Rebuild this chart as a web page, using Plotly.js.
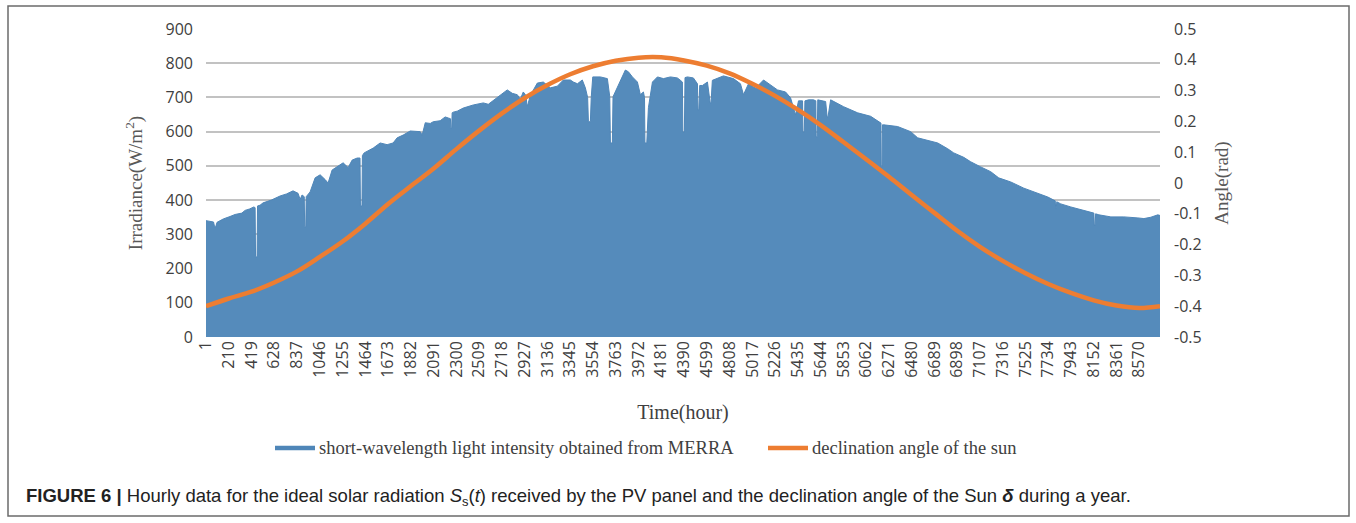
<!DOCTYPE html>
<html>
<head>
<meta charset="utf-8">
<script src="https://cdn.plot.ly/plotly-3.0.1.min.js"></script>
<style>
html,body{margin:0;padding:0;background:#fff;}
#chart{width:1356px;height:523px;}
</style>
</head>
<body>
<div id="chart"></div>
<script>
// Hourly irradiance envelope (hour index, W/m2)
const hours = [1,40,70,80,90,102,160,221,268,330,360,400,440,452,456,470,474,497,525,600,681,740,800,846,865,883,903,907,917,921,957,1003,1049,1095,1122,1159,1205,1260,1306,1343,1389,1415,1419,1433,1437,1453,1536,1600,1664,1719,1756,1811,1876,1968,1986,2014,2060,2087,2151,2197,2225,2245,2249,2257,2261,2271,2308,2363,2455,2547,2593,2675,2767,2813,2859,2887,2914,2940,2947,2955,2979,3043,3098,3163,3227,3282,3346,3374,3411,3456,3484,3505,3512,3530,3538,3552,3622,3686,3708,3714,3732,3738,3778,3824,3851,3879,3916,3962,3989,4017,4027,4031,4048,4063,4100,4146,4201,4265,4329,4357,4375,4379,4393,4399,4421,4476,4513,4518,4526,4534,4559,4605,4630,4638,4650,4752,4844,4908,4936,4982,5046,5120,5184,5248,5322,5368,5414,5441,5478,5482,5494,5500,5533,5579,5600,5603,5613,5618,5690,5704,5712,5736,5855,5984,6103,6177,6198,6200,6208,6212,6223,6351,6471,6535,6654,6719,6811,6866,6958,7022,7114,7206,7279,7390,7509,7638,7730,7785,7798,7802,7808,7812,7849,7941,8061,8153,8157,8165,8169,8199,8309,8428,8557,8612,8676,8740,8760];
const irradiance = [340,338,336,322,322,335,345,352,358,362,370,374,380,378,234,234,383,385,392,400,412,418,427,420,402,415,410,322,322,410,424,465,474,460,450,488,497,509,495,517,523,523,383,383,530,538,552,567,562,567,582,590,602,600,590,626,624,629,632,643,640,638,611,611,655,657,660,669,678,684,680,699,722,712,708,695,716,705,678,678,706,742,745,728,733,751,751,745,740,751,728,700,629,629,700,760,760,755,702,567,567,702,731,760,780,775,760,745,708,716,700,567,567,670,745,760,755,760,757,750,745,599,599,758,760,757,740,664,664,735,735,745,684,684,750,763,755,740,708,740,727,751,737,722,716,699,649,690,690,599,599,690,693,693,690,585,585,693,688,643,643,693,673,655,645,629,625,497,497,620,620,615,600,582,572,567,550,538,525,512,497,483,465,453,435,421,409,400,398,377,377,395,389,380,371,362,327,327,360,357,351,351,348,346,350,357,355];

// Declination angle of the sun (rad) read at each labelled hour
const declHours = [1,210,419,628,837,1046,1255,1464,1673,1882,2091,2300,2509,2718,2927,3136,3345,3554,3763,3972,4181,4390,4599,4808,5017,5226,5435,5644,5853,6062,6271,6480,6689,6898,7107,7316,7525,7734,7943,8152,8361,8570,8760];
const declination = [-0.400,-0.375,-0.353,-0.323,-0.287,-0.240,-0.190,-0.132,-0.068,-0.010,0.047,0.110,0.170,0.226,0.276,0.318,0.353,0.379,0.397,0.407,0.408,0.398,0.381,0.356,0.322,0.283,0.238,0.188,0.133,0.077,0.020,-0.039,-0.097,-0.155,-0.207,-0.253,-0.293,-0.328,-0.357,-0.381,-0.398,-0.406,-0.400];

// Axis tick labels
const xTickVals = [1,210,419,628,837,1046,1255,1464,1673,1882,2091,2300,2509,2718,2927,3136,3345,3554,3763,3972,4181,4390,4599,4808,5017,5226,5435,5644,5853,6062,6271,6480,6689,6898,7107,7316,7525,7734,7943,8152,8361,8570];
const yLeftTicks = [0,100,200,300,400,500,600,700,800,900];
const yRightTicks = [-0.5,-0.4,-0.3,-0.2,-0.1,0,0.1,0.2,0.3,0.4,0.5];
const yRightLabels = ["-0.5","-0.4","-0.3","-0.2","-0.1","0","0.1","0.2","0.3","0.4","0.5"];

const seriesNames = ["short-wavelength light intensity obtained from MERRA","declination angle of the sun"];
const seriesColors = ["#4f86b8","#ed7d31"];

const tickFont = {family:"Open Sans, sans-serif", size:16, color:"#404040"};
const serif = "Liberation Serif, Times New Roman, serif";

const traces = [
  {
    x: hours, y: irradiance, type:"scatter", mode:"lines",
    fill:"tozeroy", fillcolor:"#558bbb",
    line:{color:seriesColors[0], width:1, shape:"linear"},
    name: seriesNames[0], yaxis:"y", hoverinfo:"skip", showlegend:false
  },
  {
    x: declHours, y: declination, type:"scatter", mode:"lines",
    line:{color:seriesColors[1], width:4.5, shape:"spline", smoothing:1},
    name: seriesNames[1], yaxis:"y2", hoverinfo:"skip", showlegend:false
  }
];

const L = 206, R = 1160, T = 29, B = 337, W = 1356, H = 523;
const pw = R - L, ph = B - T;
function px(x){ return (x - L)/pw; }
function py(y){ return (B - y)/ph; }

const legendY = py(448);
const legendFont = {family:serif, size:18.5, color:"#404040"};

const layout = {
  width: W, height: H,
  margin:{l:L, r:W-R, t:T, b:H-B, autoexpand:false},
  paper_bgcolor:"#fff", plot_bgcolor:"#fff",
  showlegend:false,
  xaxis:{
    range:[1,8760], tickmode:"array", tickvals:xTickVals,
    tickangle:-90, tickfont:tickFont, showgrid:false, zeroline:false,
    showline:false, ticks:"", automargin:false, fixedrange:true,
    title:{text:"Time(hour)", font:{family:serif, size:20, color:"#404040"}, standoff:28}
  },
  yaxis:{
    range:[0,900], tickmode:"array", tickvals:yLeftTicks,
    tickfont:tickFont, showgrid:true, gridcolor:"#c2c2c2", gridwidth:2,
    zeroline:false, showline:false, ticks:"", ticklabelstandoff:12, automargin:false,
    title:{text:"Irradiance(W/m<sup>2</sup>)", font:{family:serif, size:19, color:"#595959"}, standoff:17}
  },
  yaxis2:{
    range:[-0.5,0.5], overlaying:"y", side:"right", tickmode:"array",
    tickvals:yRightTicks, ticktext:yRightLabels, tickfont:tickFont,
    showgrid:false, zeroline:false, showline:false, ticks:"", ticklabelstandoff:13, automargin:false,
    title:{text:"Angle(rad)", font:{family:serif, size:19, color:"#595959"}, standoff:14}
  },
  shapes:[
    {type:"rect", xref:"paper", yref:"paper", x0:px(8), x1:px(1349), y0:py(516), y1:py(6),
     line:{color:"#6b6b6b", width:1.5}, fillcolor:"rgba(0,0,0,0)", layer:"below"},
    {type:"line", xref:"paper", yref:"paper", x0:px(275), x1:px(315), y0:legendY, y1:legendY,
     line:{color:seriesColors[0], width:4.5}},
    {type:"line", xref:"paper", yref:"paper", x0:px(768), x1:px(808), y0:legendY, y1:legendY,
     line:{color:seriesColors[1], width:4.5}}
  ],
  annotations:[
    {xref:"paper", yref:"paper", x:px(317), y:legendY, xanchor:"left", yanchor:"middle", showarrow:false,
     font:legendFont, text:seriesNames[0]},
    {xref:"paper", yref:"paper", x:px(810), y:legendY, xanchor:"left", yanchor:"middle", showarrow:false,
     font:legendFont, text:seriesNames[1]},
    {xref:"paper", yref:"paper", x:px(24), y:py(497), xanchor:"left", yanchor:"middle", showarrow:false,
     align:"left", font:{family:"Liberation Sans, Arial, sans-serif", size:18.5, color:"#222"},
     text:"<b>FIGURE 6 |</b> Hourly data for the ideal solar radiation <i>S</i><sub>s</sub>(<i>t</i>) received by the PV panel and the declination angle of the Sun <b><i>δ</i></b> during a year."}
  ]
};

Plotly.newPlot("chart", traces, layout, {staticPlot:true, displayModeBar:false});
</script>
</body>
</html>
